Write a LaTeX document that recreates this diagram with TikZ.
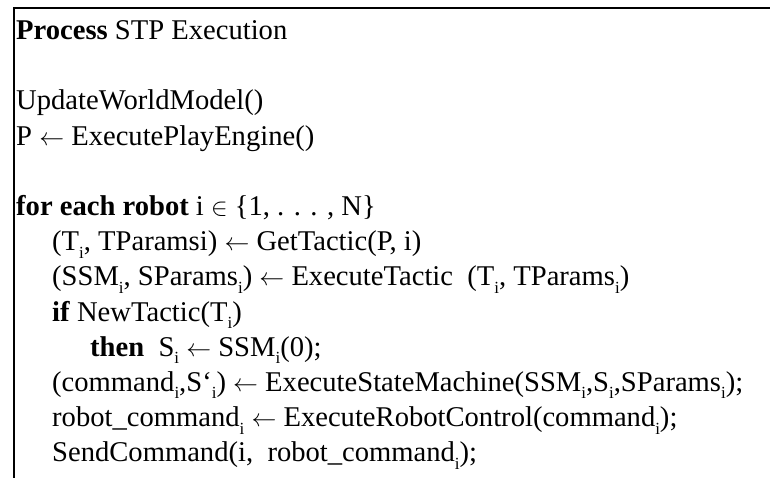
\documentclass[tikz,border=0pt]{standalone}
\usepackage{fontspec}
\setmainfont{Liberation Serif}
\usetikzlibrary{positioning}
\newcommand{\ix}{\raisebox{-0.26em}{\fontsize{17}{17}\selectfont i}}
\newcommand{\getsarrow}{$\leftarrow$}

\begin{document}
\begin{tikzpicture}[
  x=1pt, y=-1pt,
  codeline/.style={anchor=base west, inner sep=0pt, font=\fontsize{28.6}{35}\selectfont},
  frame/.style={draw=black, line width=2pt}
]
\useasboundingbox (0,0) rectangle (770,478);
\draw[frame] (14,478) -- (14,8) -- (770,8);
\node[codeline] (title) at (16,39.5) {\textbf{Process} STP Execution};
\node[codeline] (update) at (16,110) {UpdateWorldModel()};
\node[codeline] (play) at (16,145.2) {P \getsarrow\ ExecutePlayEngine()};
\node[codeline] (foreach) at (16,215.5) {\textbf{for each robot} i $\in$ \{1, . . . , N\}};
\node[codeline] (gettactic) at (52,250.7) {(T\ix, TParamsi) \getsarrow\ GetTactic(P, i)};
\node[codeline] (exectactic) at (52,285.9) {(SSM\ix, SParams\ix) \getsarrow\ ExecuteTactic\ \ (T\ix, TParams\ix)};
\node[codeline] (iftactic) at (52,321.1) {\textbf{if} NewTactic(T\ix)};
\node[codeline] (thenstate) at (90,356.3) {\textbf{then}\ \ S\ix\ \getsarrow\ SSM\ix(0);};
\node[codeline] (statemachine) at (52,391.5) {(command\ix,S‘\ix) \getsarrow\ ExecuteStateMachine(SSM\ix,S\ix,SParams\ix);};
\node[codeline] (robotcontrol) at (52,426.7) {robot\_command\ix\ \getsarrow\ ExecuteRobotControl(command\ix);};
\node[codeline] (sendcmd) at (52,461.9) {SendCommand(i,\ \ robot\_command\ix);};
\end{tikzpicture}
\end{document}
